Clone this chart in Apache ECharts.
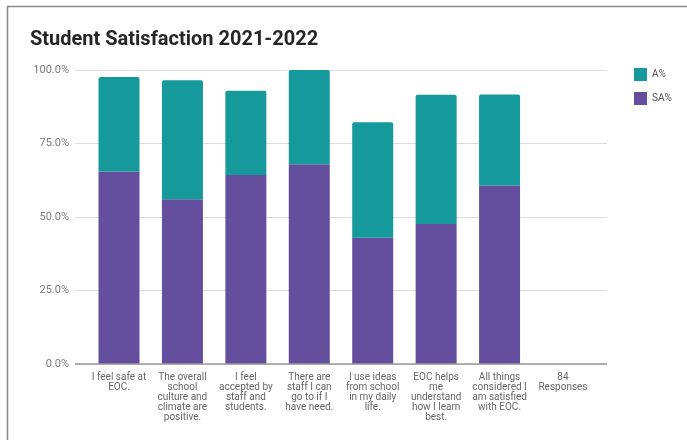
<!DOCTYPE html>
<html>
<head>
<meta charset="utf-8">
<script src="https://cdn.jsdelivr.net/npm/echarts@6/dist/echarts.min.js"></script>
<style>html,body{margin:0;padding:0;background:#fff}#c{width:687px;height:440px}</style>
</head>
<body>
<div id="c"></div>
<script>
var categories = [
  "I feel safe at\nEOC.",
  "The overall\nschool\nculture and\nclimate are\npositive.",
  "I feel\naccepted by\nstaff and\nstudents.",
  "There are\nstaff I can\ngo to if I\nhave need.",
  "I use ideas\nfrom school\nin my daily\nlife.",
  "EOC helps\nme\nunderstand\nhow I learn\nbest.",
  "All things\nconsidered I\nam satisfied\nwith EOC.",
  "84\nResponses"
];
var saValues = [65.5, 56.0, 64.3, 67.9, 42.9, 47.6, 60.7, null];
var aValues = [32.1, 40.5, 28.6, 32.1, 39.3, 44.0, 31.0, null];
var yTicks = [0, 25, 50, 75, 100];

var chart = echarts.init(document.getElementById('c'), null, {renderer: 'canvas'});
var font = 'Roboto, "Noto Sans", sans-serif';
chart.setOption({
  animation: false,
  textStyle: {fontFamily: font},
  title: {
    text: 'Student Satisfaction 2021-2022',
    left: 25, top: 25,
    textStyle: {fontFamily: font, fontSize: 20, fontWeight: 'bold', color: '#262626'}
  },
  graphic: [{
    type: 'rect', silent: true,
    shape: {x: 7.5, y: 6.5, width: 700, height: 460},
    style: {fill: 'none', stroke: '#8a8a8a', lineWidth: 1.5}
  }],
  legend: {
    orient: 'vertical', left: 629, top: 63,
    itemWidth: 13, itemHeight: 13, itemGap: 11,
    icon: 'rect',
    data: ['A%', 'SA%'],
    textStyle: {fontFamily: font, fontSize: 10, color: '#555'}
  },
  grid: [
    {left: 75, right: 80, top: 70, bottom: 76},
    {left: 87.3, right: 92.3, top: 70, bottom: 76}
  ],
  xAxis: [
    {gridIndex: 0, type: 'category', data: categories, show: false},
    {gridIndex: 1, type: 'category', data: categories,
     axisLine: {show: false}, axisTick: {show: false},
     axisLabel: {interval: 0, margin: 8, fontSize: 10, lineHeight: 10, color: '#666', fontFamily: font}}
  ],
  yAxis: [
    {gridIndex: 0, type: 'value', min: yTicks[0], max: yTicks[yTicks.length - 1], interval: 25,
     axisLine: {show: false}, axisTick: {show: false},
     axisLabel: {margin: 6, fontSize: 11, color: '#7a7a7a', fontFamily: font,
       formatter: function (v) { return v.toFixed(1) + '%'; }},
     splitLine: {lineStyle: {color: '#dcdcdc', width: 1}}},
    {gridIndex: 1, type: 'value', min: yTicks[0], max: yTicks[yTicks.length - 1], interval: 25, show: false}
  ],
  series: [
    {name: 'SA%', type: 'bar', stack: 's', xAxisIndex: 1, yAxisIndex: 1, data: saValues,
     barWidth: 41, itemStyle: {color: '#634F9E'}},
    {name: 'A%', type: 'bar', stack: 's', xAxisIndex: 1, yAxisIndex: 1, data: aValues,
     barWidth: 41, itemStyle: {color: '#16999A', borderRadius: [2, 2, 0, 0]}},
    {name: 'axis', type: 'line', xAxisIndex: 0, yAxisIndex: 0, data: [], silent: true,
     markLine: {silent: true, symbol: 'none', label: {show: false},
       lineStyle: {color: '#999', width: 1.5, type: 'solid'},
       data: [{yAxis: 0}]}}
  ]
});
</script>
</body>
</html>
